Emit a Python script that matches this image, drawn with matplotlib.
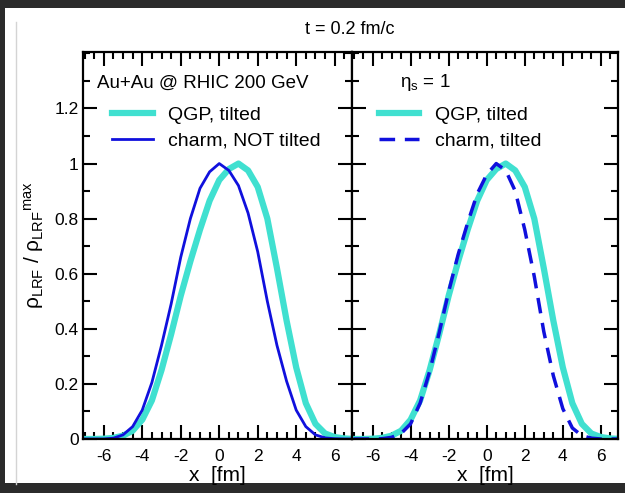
import matplotlib
matplotlib.use("Agg")
import matplotlib.pyplot as plt
from matplotlib.patches import Rectangle
from matplotlib.lines import Line2D
from matplotlib.ticker import MultipleLocator, FuncFormatter

plt.rcParams['font.family'] = ['Liberation Sans', 'DejaVu Sans']
plt.rcParams['mathtext.fontset'] = 'custom'
plt.rcParams['mathtext.rm'] = 'Liberation Sans'
plt.rcParams['mathtext.it'] = 'Liberation Sans:italic'
plt.rcParams['mathtext.sf'] = 'Liberation Sans'

# transverse coordinate x [fm]
x = [-7.0, -6.5, -6.0, -5.5, -5.0, -4.5, -4.0, -3.5, -3.0, -2.5, -2.0, -1.5, -1.0, -0.5,
     0.0, 0.5, 1.0, 1.5, 2.0, 2.5, 3.0, 3.5, 4.0, 4.5, 5.0, 5.5, 6.0, 6.5, 7.0]

# normalised local-rest-frame density profiles
qgp_tilted = [0.0, 0.0, 0.001, 0.004, 0.012, 0.03, 0.07, 0.14, 0.25, 0.38, 0.52, 0.645, 0.76, 0.865,
              0.94, 0.98, 1.0, 0.975, 0.915, 0.80, 0.62, 0.43, 0.26, 0.13, 0.055, 0.02, 0.007, 0.002, 0.0]
charm_not_tilted = [0.0, 0.0, 0.0, 0.003, 0.015, 0.045, 0.105, 0.205, 0.34, 0.49, 0.66, 0.80, 0.91, 0.97,
                    1.0, 0.975, 0.92, 0.82, 0.68, 0.50, 0.34, 0.21, 0.105, 0.045, 0.015, 0.004, 0.001, 0.0, 0.0]
charm_tilted = [0.0, 0.0, 0.0, 0.001, 0.006, 0.02, 0.055, 0.13, 0.245, 0.385, 0.535, 0.67, 0.785, 0.89,
                0.96, 1.0, 0.975, 0.90, 0.76, 0.59, 0.39, 0.23, 0.11, 0.04, 0.012, 0.003, 0.0, 0.0, 0.0]

x_ticks = [-6, -4, -2, 0, 2, 4, 6]
y_ticks = [0, 0.2, 0.4, 0.6, 0.8, 1.0, 1.2]

TURQ = '#40e0d0'
BLUE = '#1010dd'

W, H = 625, 493
fig = plt.figure(figsize=(W / 100, H / 100), dpi=100)
fig.patch.set_facecolor('#2b2b2b')


def fx(px):
    return px / W


def fy(py):
    return 1 - py / H


# white page with a thin rule on its left
fig.add_artist(Rectangle((fx(5), fy(483)), 1 - fx(5), fy(8) - fy(483),
                         transform=fig.transFigure, facecolor='white', edgecolor='none', zorder=-10))
fig.add_artist(Line2D([fx(16), fx(16)], [fy(484), fy(22)], transform=fig.transFigure,
                      color='#d4d4d4', lw=1.0, zorder=-9))

bottom, top = 439, 52
ax1 = fig.add_axes([fx(83), fy(bottom), fx(352) - fx(83), fy(top) - fy(bottom)])
ax2 = fig.add_axes([fx(352), fy(bottom), fx(618) - fx(352), fy(top) - fy(bottom)])


def fmt(v, pos):
    return ('%g' % round(v, 2))


for ax in (ax1, ax2):
    ax.set_xlim(-7.08, 6.9)
    ax.set_ylim(0, 1.405)
    ax.set_xticks(x_ticks)
    ax.xaxis.set_minor_locator(MultipleLocator(0.5))
    ax.set_yticks(y_ticks)
    ax.yaxis.set_minor_locator(MultipleLocator(0.1))
    ax.tick_params(which='both', direction='in', top=True, right=True, width=1.5,
                   labelsize=12.5, colors='black')
    ax.tick_params(which='major', length=10)
    ax.tick_params(which='minor', length=5)
    ax.tick_params(axis='x', pad=7)
    ax.tick_params(axis='y', pad=3)
    ax.xaxis.set_major_formatter(FuncFormatter(fmt))
    ax.yaxis.set_major_formatter(FuncFormatter(fmt))
    for s in ax.spines.values():
        s.set_linewidth(1.6)
    ax.set_xlabel('x  [fm]', fontsize=15, labelpad=1.5)

ax2.tick_params(axis='y', labelleft=False)

leg_kw = dict(loc='upper left', frameon=False, borderpad=0, borderaxespad=0,
              handlelength=2.1, handletextpad=0.8, labelspacing=0.44, fontsize=14)

# left panel: tilted QGP vs untilted charm
l1, = ax1.plot(x, qgp_tilted, color=TURQ, lw=4.5, label='QGP, tilted')
l2, = ax1.plot(x, charm_not_tilted, color=BLUE, lw=2.0, label='charm, NOT tilted')
ax1.text(0.053, 0.92, 'Au+Au @ RHIC 200 GeV', transform=ax1.transAxes, fontsize=13.5,
         va='center', ha='left')
ax1.legend(handles=[l1, l2], bbox_to_anchor=(0.108, 0.86), **leg_kw)

# right panel: tilted QGP vs tilted charm
r1, = ax2.plot(x, qgp_tilted, color=TURQ, lw=4.5, label='QGP, tilted')
r2, = ax2.plot(x, charm_tilted, color=BLUE, lw=2.5, dashes=(4.5, 2.8), label='charm, tilted')
ax2.text(0.18, 0.92, 'η$_{\\rm s}$ = 1', transform=ax2.transAxes, fontsize=13.5,
         va='center', ha='left')
ax2.legend(handles=[r1, r2], bbox_to_anchor=(0.10, 0.86), **leg_kw)

ax1.set_ylabel(r'$\mathrm{\rho_{LRF}\ /\ \rho_{LRF}}{}^{\mathrm{max}}$', fontsize=15, labelpad=6)

fig.text(fx(350), fy(30), 't = 0.2 fm/c', fontsize=13, ha='center', va='center')

fig.savefig('out.png', dpi=100, facecolor=fig.get_facecolor())
